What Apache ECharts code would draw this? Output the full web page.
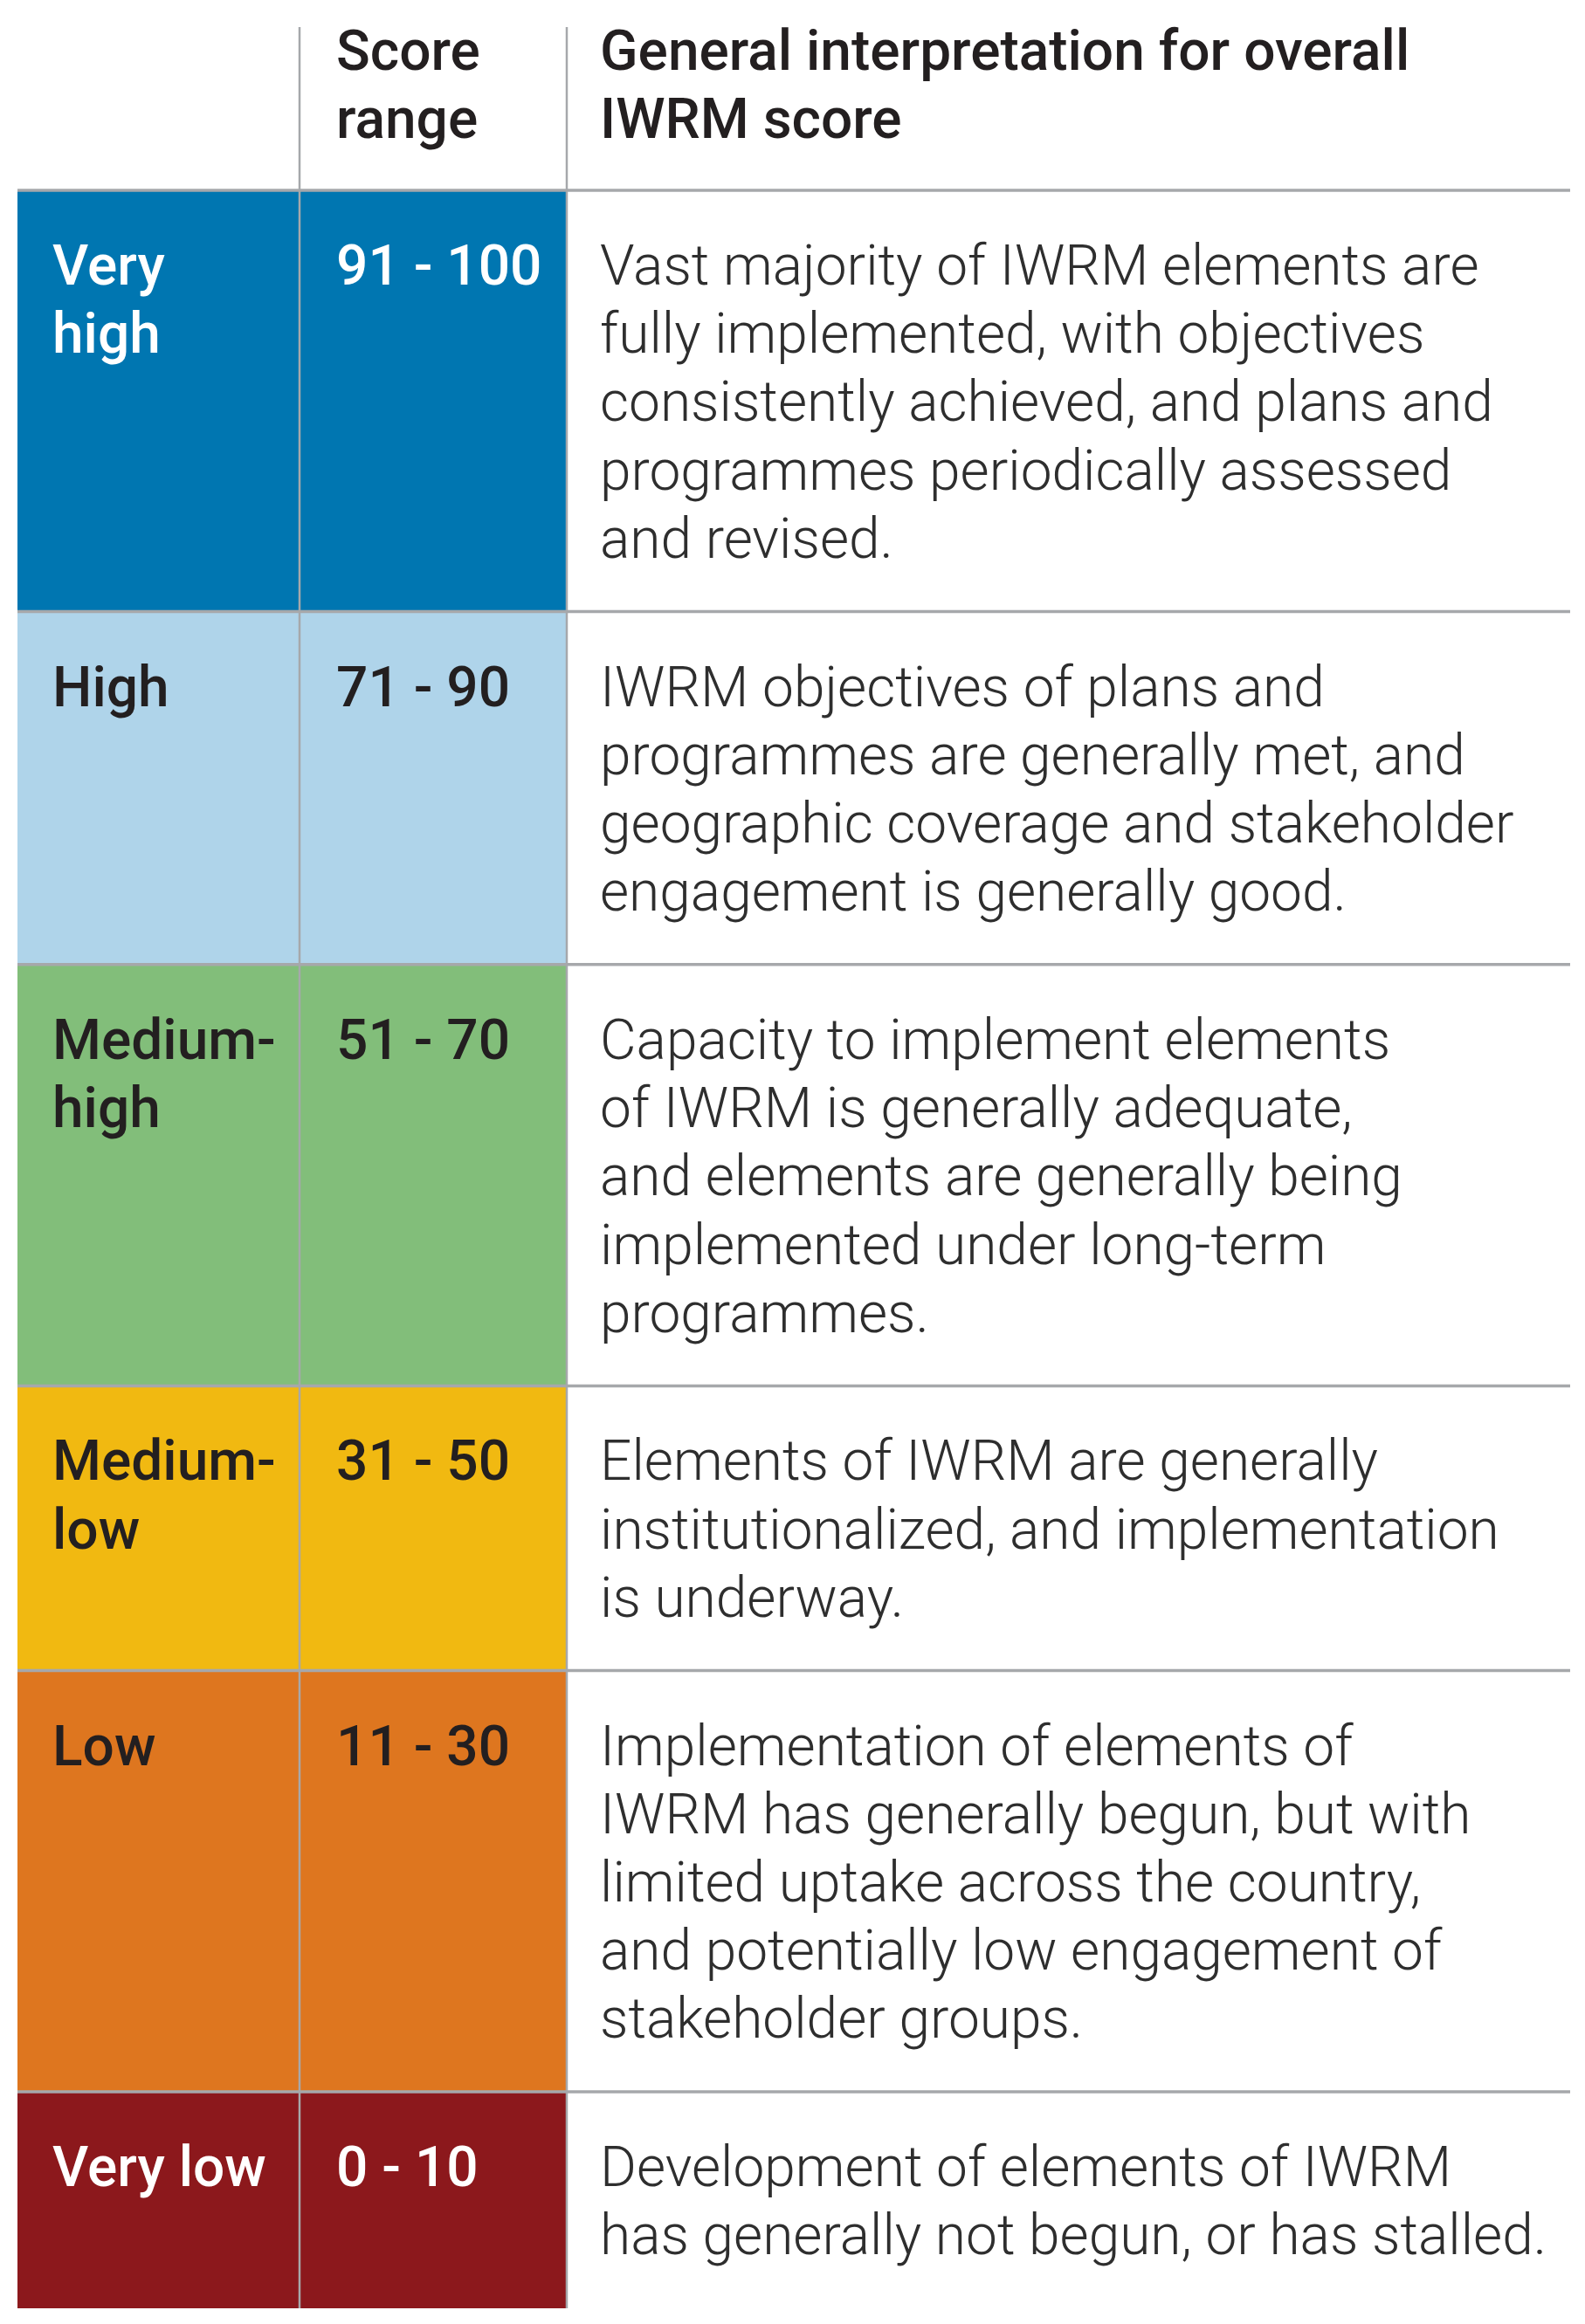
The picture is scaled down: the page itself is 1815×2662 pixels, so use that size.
<!DOCTYPE html>
<html>
<head>
<meta charset="utf-8">
<script src="https://cdn.jsdelivr.net/npm/echarts@6/dist/echarts.min.js"></script>
<style>
  html, body { margin: 0; padding: 0; background: #ffffff; }
  #chart { width: 1815px; height: 2662px; }
</style>
</head>
<body>
<div id="chart"></div>
<script>
// ---------- data ----------
const headerLabels = ['', 'Score\nrange', 'General interpretation for overall\nIWRM score'];
const levels = ['Very\nhigh', 'High', 'Medium-\nhigh', 'Medium-\nlow', 'Low', 'Very low'];
const scoreRanges = ['91 - 100', '71 - 90', '51 - 70', '31 - 50', '11 - 30', '0 - 10'];
const interpretations = [
  'Vast majority of IWRM elements are\nfully implemented, with objectives\nconsistently achieved, and plans and\nprogrammes periodically assessed\nand revised.',
  'IWRM objectives of plans and\nprogrammes are generally met, and\ngeographic coverage and stakeholder\nengagement is generally good.',
  'Capacity to implement elements\nof IWRM is generally adequate,\nand elements are generally being\nimplemented under long-term\nprogrammes.',
  'Elements of IWRM are generally\ninstitutionalized, and implementation\nis underway.',
  'Implementation of elements of\nIWRM has generally begun, but with\nlimited uptake across the country,\nand potentially low engagement of\nstakeholder groups.',
  'Development of elements of IWRM\nhas generally not begun, or has stalled.'
];

// ---------- styles / layout ----------
const cellColors = ['#0076B1', '#AFD4EA', '#82BE7A', '#F1B911', '#DE761F', '#8C181C'];
const cellTextColors = ['#FFFFFF', '#231F20', '#231F20', '#231F20', '#231F20', '#FFFFFF'];
const bodyTextColor = '#2E2E2E';
const headerTextColor = '#231F20';
const ruleColor = '#A6A8AB';
const FONT = 'Roboto, "Noto Sans", sans-serif';
const FONT_SIZE = 64;
const colEdges = [0, 323, 629, 1778];       // x-axis units (column layout)
const colPad = [40, 42, 38];                 // px text inset per column
const ROW_PAD = 1.17;                        // extra line-units per row
const HEADER_H = 2.39;                       // header height in line-units

const rowLines = interpretations.map(t => t.split('\n').length);
const rowH = rowLines.map(n => n + ROW_PAD);
const rowTop = [];
rowH.reduce((acc, h, i) => { rowTop[i] = acc; return acc + h; }, 0);
const totalH = rowH.reduce((a, b) => a + b, 0);

const chart = echarts.init(document.getElementById('chart'), null, { renderer: 'canvas' });

function renderItem(params, api) {
  const i = api.value(0);
  const unitPx = api.size([0, 1])[1];
  const children = [];
  const xs = colEdges.map(e => api.coord([e, 0])[0]);
  if (i < 0) {
    const top = api.coord([0, -HEADER_H])[1];
    const bot = api.coord([0, 0])[1];
    [1, 2].forEach(c => {
      children.push({ type: 'line', z2: 10,
        shape: { x1: xs[c], y1: top, x2: xs[c], y2: bot },
        style: { stroke: ruleColor, lineWidth: 2.5 } });
    });
    children.push({ type: 'line', z2: 11,
      shape: { x1: xs[0], y1: bot, x2: xs[3], y2: bot },
      style: { stroke: ruleColor, lineWidth: 3.5 } });
    [1, 2].forEach(c => {
      children.push({ type: 'text', z2: 12,
        style: { text: headerLabels[c], x: xs[c] + colPad[c], y: top - 6,
          font: '500 ' + FONT_SIZE + 'px ' + FONT, fill: headerTextColor,
          lineHeight: unitPx, verticalAlign: 'top', align: 'left' } });
    });
    return { type: 'group', children };
  }
  const y0 = api.coord([0, rowTop[i]])[1];
  const y1 = api.coord([0, rowTop[i] + rowH[i]])[1];
  [0, 1].forEach(c => {
    children.push({ type: 'rect', z2: 0,
      shape: { x: xs[c], y: y0, width: xs[c + 1] - xs[c], height: y1 - y0 },
      style: { fill: cellColors[i] } });
  });
  [1, 2].forEach(c => {
    children.push({ type: 'line', z2: 10,
      shape: { x1: xs[c], y1: y0, x2: xs[c], y2: y1 },
      style: { stroke: ruleColor, lineWidth: 2.5 } });
  });
  if (i > 0) {
    children.push({ type: 'line', z2: 11,
      shape: { x1: xs[0], y1: y0, x2: xs[3], y2: y0 },
      style: { stroke: ruleColor, lineWidth: 3.5 } });
  }
  const ty = y0 + 53;
  children.push({ type: 'text', z2: 12,
    style: { text: levels[i], x: xs[0] + colPad[0], y: ty,
      font: '500 ' + FONT_SIZE + 'px ' + FONT, fill: cellTextColors[i],
      lineHeight: unitPx, verticalAlign: 'top', align: 'left' } });
  children.push({ type: 'text', z2: 12,
    style: { text: scoreRanges[i], x: xs[1] + colPad[1], y: ty,
      font: '500 ' + FONT_SIZE + 'px ' + FONT, fill: cellTextColors[i],
      lineHeight: unitPx, verticalAlign: 'top', align: 'left' } });
  children.push({ type: 'text', z2: 12,
    style: { text: interpretations[i], x: xs[2] + colPad[2], y: ty,
      font: '300 ' + FONT_SIZE + 'px ' + FONT, fill: bodyTextColor,
      lineHeight: unitPx, verticalAlign: 'top', align: 'left' } });
  return { type: 'group', children };
}

const seriesData = [[-1]].concat(levels.map((_, i) => [i]));

chart.setOption({
  animation: false,
  backgroundColor: '#ffffff',
  grid: { left: 20, right: 17, top: 31, bottom: 18, containLabel: false },
  xAxis: { type: 'value', min: colEdges[0], max: colEdges[colEdges.length - 1], show: false },
  yAxis: { type: 'value', min: -HEADER_H, max: totalH, inverse: true, show: false },
  series: [{
    type: 'custom',
    coordinateSystem: 'cartesian2d',
    clip: false,
    renderItem: renderItem,
    encode: { x: -1, y: -1 },
    data: seriesData
  }]
});
</script>
</body>
</html>
